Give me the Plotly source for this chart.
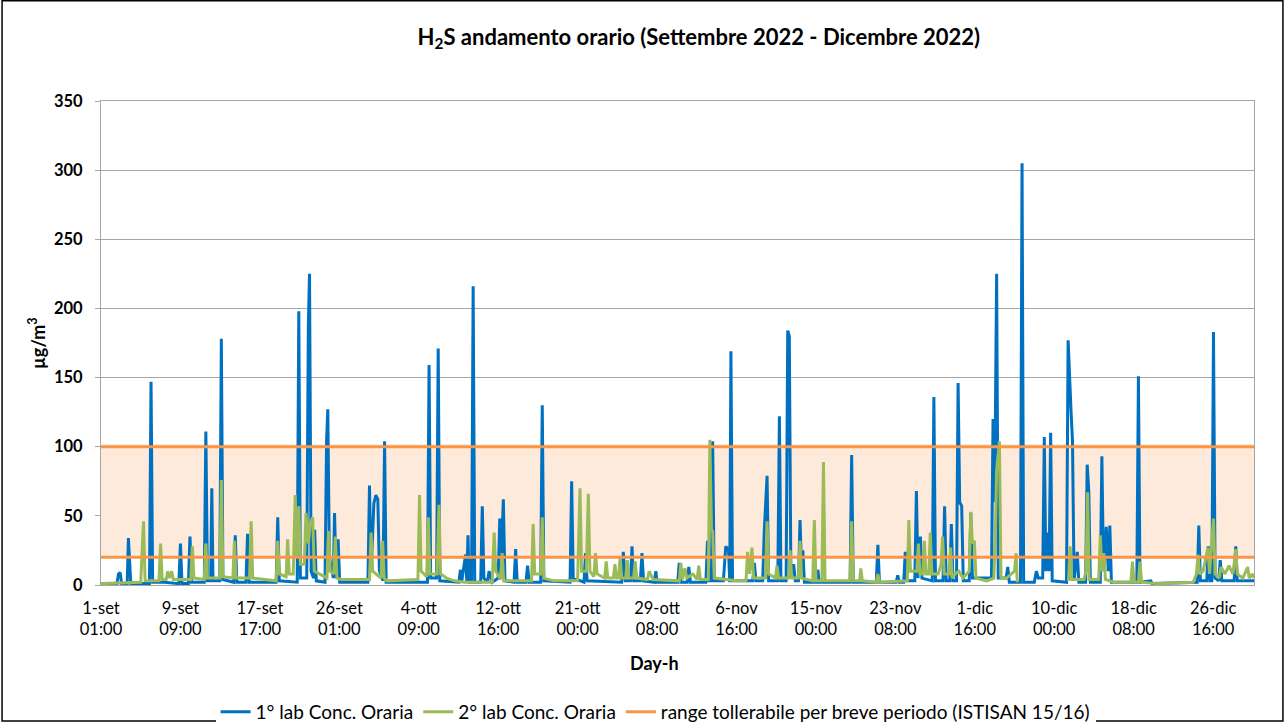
import plotly.graph_objects as go

# hour index from 1-set 01:00 (one point per hour), values in µg/m3
tick_hours = [0, 200, 400, 600, 800, 1000, 1200, 1400, 1600, 1800, 2000, 2200, 2400, 2600, 2800]
tick_labels = ["1-set<br>01:00", "9-set<br>09:00", "17-set<br>17:00", "26-set<br>01:00",
               "4-ott<br>09:00", "12-ott<br>16:00", "21-ott<br>00:00", "29-ott<br>08:00",
               "6-nov<br>16:00", "15-nov<br>00:00", "23-nov<br>08:00", "1-dic<br>16:00",
               "10-dic<br>00:00", "18-dic<br>08:00", "26-dic<br>16:00"]
last_hour = 2903

lab1_hour = [0, 40, 44, 48, 52, 66, 69, 72, 75,
             122, 126, 130, 160, 196, 200, 204,
             220, 224, 228, 260, 264, 268, 276, 279, 282,
             299, 303, 307, 334, 338, 342, 365, 369, 373,
             441, 445, 449, 494, 498, 502, 518, 522, 525, 529,
             535, 538, 542, 564, 568, 571, 575, 585, 588, 592, 597, 601,
             672, 676, 680, 687, 692, 697, 701, 710, 714, 718,
             822, 826, 830, 845, 849, 853, 901, 905, 908,
             918, 921, 924, 927, 933, 937, 941, 956, 960, 964,
             973, 977, 985, 1000, 1004, 1008, 1013, 1017,
             1040, 1044, 1048, 1070, 1074, 1078, 1107, 1111, 1115,
             1181, 1185, 1189, 1216, 1220, 1224, 1311, 1315, 1320,
             1333, 1337, 1341, 1358, 1362, 1366, 1393, 1397, 1400,
             1452, 1456, 1460, 1476, 1480, 1484, 1523, 1527, 1531,
             1537, 1540, 1544, 1567, 1573, 1580, 1583, 1586, 1590,
             1641, 1645, 1649, 1666, 1670, 1677, 1681, 1704, 1708, 1712,
             1725, 1729, 1733, 1737, 1744, 1748, 1756, 1760, 1764, 1767, 1771,
             1801, 1805, 1808, 1886, 1890, 1894, 1952, 1956, 1960,
             2002, 2006, 2010, 2021, 2025, 2029, 2049, 2053, 2057, 2063, 2067,
             2093, 2097, 2101, 2120, 2124, 2128, 2137, 2141, 2145,
             2154, 2158, 2162, 2167, 2171, 2186, 2190, 2194,
             2242, 2246, 2250, 2255, 2259, 2279, 2283, 2287,
             2315, 2319, 2323, 2350, 2355, 2360, 2371, 2375, 2379,
             2383, 2387, 2391, 2395, 2431, 2435, 2442, 2446, 2450,
             2458, 2462, 2479, 2483, 2487, 2491, 2516, 2520, 2524,
             2531, 2536, 2540, 2544, 2608, 2612, 2616, 2643, 2647,
             2760, 2764, 2768, 2784, 2788, 2792, 2797, 2801, 2805,
             2814, 2818, 2822, 2853, 2857, 2861, 2903]
lab1_conc = [1, 1, 8, 9, 1, 1, 34, 12, 1,
             1, 147, 2, 2, 1, 30, 1,
             1, 35, 2, 2, 111, 3, 3, 70, 3,
             3, 178, 4, 2, 36, 2, 2, 37, 2,
             2, 49, 3, 2, 198, 5, 5, 187, 225, 10,
             5, 40, 3, 2, 105, 127, 20, 5, 52, 5, 33, 2,
             2, 72, 10, 59, 65, 62, 10, 3, 104, 2,
             2, 159, 5, 5, 171, 3, 2, 11, 2,
             22, 2, 36, 2, 2, 216, 2, 2, 57, 5,
             2, 10, 2, 5, 48, 20, 62, 3,
             2, 26, 2, 2, 14, 2, 2, 130, 3,
             2, 75, 5, 2, 23, 3, 2, 24, 3,
             3, 28, 3, 3, 23, 3, 2, 10, 2,
             2, 16, 2, 2, 13, 2, 2, 32, 3,
             3, 104, 3, 3, 28, 25, 2, 169, 3,
             3, 16, 3, 3, 39, 79, 3, 3, 122, 3,
             3, 184, 180, 5, 15, 3, 3, 47, 10, 25, 2,
             2, 11, 2, 2, 94, 2, 2, 29, 2,
             2, 7, 2, 2, 24, 3, 3, 68, 5, 35, 5,
             3, 136, 3, 3, 57, 3, 3, 44, 3,
             3, 146, 60, 57, 3, 3, 52, 5,
             5, 120, 60, 225, 5, 5, 13, 2,
             2, 305, 2, 2, 10, 5, 5, 107, 10,
             38, 10, 110, 3, 2, 177, 128, 104, 3,
             24, 2, 2, 87, 68, 2, 2, 93, 10,
             42, 10, 43, 2, 2, 151, 2, 3, 1,
             2, 43, 3, 3, 28, 3, 3, 183, 5,
             3, 18, 3, 3, 28, 3, 3]

lab2_hour = [0, 100, 107, 111, 146, 150, 154, 164, 168, 172, 178, 182,
             226, 230, 234, 260, 264, 268, 299, 303, 307, 332, 336, 340,
             374, 378, 382, 441, 445, 449, 466, 470, 474, 484, 489, 493,
             498, 502, 512, 516, 522, 527, 533, 537, 569, 573, 577,
             586, 590, 594, 605, 676, 680, 684, 705, 709, 713, 720,
             798, 802, 806, 820, 824, 828, 846, 851, 855, 870, 890, 915,
             985, 990, 994, 1006, 1010, 1014, 1084, 1088, 1092, 1107, 1111, 1115, 1140,
             1200, 1206, 1210, 1222, 1227, 1231, 1241, 1245, 1249,
             1268, 1272, 1276, 1290, 1294, 1298, 1303, 1307, 1311, 1321, 1325, 1329,
             1341, 1345, 1349, 1376, 1380, 1390, 1456, 1460, 1464, 1470, 1475,
             1490, 1501, 1505, 1509, 1529, 1533, 1537, 1540, 1544, 1600,
             1624, 1628, 1633, 1639, 1643, 1673, 1677, 1681, 1698, 1702, 1706,
             1731, 1735, 1739, 1756, 1760, 1764, 1792, 1796, 1800, 1815, 1819, 1823,
             1886, 1890, 1894, 1910, 1913, 1917, 1952, 1956, 1960,
             2030, 2034, 2038, 2054, 2058, 2062, 2069, 2073, 2077,
             2084, 2088, 2092, 2108, 2115, 2119, 2123, 2135, 2139, 2143,
             2150, 2160, 2170, 2186, 2190, 2194, 2199, 2203, 2230,
             2248, 2252, 2255, 2262, 2266, 2280, 2300, 2304, 2307, 2308,
             2436, 2440, 2444, 2475, 2480, 2484, 2488, 2512, 2516, 2520, 2525, 2529, 2550,
             2593, 2597, 2601, 2612, 2616, 2620, 2660, 2750, 2758, 2762, 2766,
             2775, 2787, 2791, 2801, 2805, 2815, 2820, 2830, 2840, 2850, 2857, 2861,
             2875, 2887, 2891, 2899, 2903]
lab2_conc = [1, 2, 46, 3, 3, 30, 4, 4, 10, 5, 10, 4,
             4, 28, 5, 4, 30, 5, 5, 76, 6, 5, 32, 5,
             5, 46, 5, 3, 32, 8, 6, 33, 8, 8, 65, 20,
             57, 15, 15, 52, 30, 45, 49, 10, 5, 39, 10,
             8, 35, 5, 4, 4, 38, 10, 5, 32, 5, 3,
             4, 65, 10, 6, 49, 8, 8, 58, 8, 5, 3, 2,
             2, 38, 10, 4, 23, 3, 3, 44, 8, 8, 49, 5, 3,
             3, 70, 10, 10, 66, 10, 6, 23, 8,
             5, 17, 5, 5, 15, 5, 5, 20, 5, 5, 18, 5,
             5, 17, 5, 4, 10, 4, 3, 16, 4, 12, 5,
             8, 4, 14, 4, 4, 105, 40, 39, 5, 3,
             3, 24, 8, 27, 5, 5, 46, 8, 5, 14, 5,
             5, 25, 5, 5, 32, 5, 3, 47, 3, 3, 89, 3,
             3, 46, 3, 3, 12, 3, 2, 8, 2,
             3, 47, 10, 10, 30, 8, 8, 32, 8,
             8, 38, 8, 8, 15, 35, 8, 8, 27, 5,
             8, 10, 5, 10, 53, 30, 32, 5, 3,
             5, 40, 83, 104, 5, 5, 10, 23, 2, None,
             3, 28, 4, 4, 10, 67, 4, 4, 36, 10, 23, 4, 2,
             2, 17, 2, 2, 17, 2, 1, 2, 8, 22, 8,
             10, 27, 8, 48, 8, 5, 13, 8, 14, 8, 26, 8,
             5, 13, 5, 8, 5]

assert len(lab1_hour) == len(lab1_conc)
assert len(lab2_hour) == len(lab2_conc)

range_low = 20
range_high = 100

blue = "#0070C0"
green = "#9BBB59"
orange = "#F79646"
band = "#FDEADA"

fig = go.Figure()

# shaded tolerable band
fig.add_trace(go.Scatter(x=[0, last_hour], y=[range_low, range_low], mode="lines",
                         line=dict(width=0), showlegend=False, hoverinfo="skip"))
fig.add_trace(go.Scatter(x=[0, last_hour], y=[range_high + 2, range_high + 2], mode="lines",
                         line=dict(width=0), fill="tonexty", fillcolor=band,
                         showlegend=False, hoverinfo="skip"))

fig.add_trace(go.Scatter(x=lab1_hour, y=lab1_conc, mode="lines", name="1° lab Conc. Oraria",
                         line=dict(color=blue, width=3)))
fig.add_trace(go.Scatter(x=lab2_hour, y=lab2_conc, mode="lines", name="2° lab Conc. Oraria",
                         line=dict(color=green, width=3), connectgaps=False))

fig.add_trace(go.Scatter(x=[0, last_hour], y=[range_high, range_high], mode="lines",
                         name="range tollerabile per breve periodo (ISTISAN 15/16)",
                         line=dict(color=orange, width=3)))
fig.add_trace(go.Scatter(x=[0, last_hour], y=[range_low, range_low], mode="lines",
                         line=dict(color=orange, width=3), showlegend=False))

fig.update_layout(
    width=1287, height=725,
    margin=dict(l=101, r=33, t=101, b=140, autoexpand=False),
    paper_bgcolor="white", plot_bgcolor="white",
    font=dict(family="Lato, Noto Sans, sans-serif", color="black"),
    title=dict(text="<b>H<sub>2</sub>S andamento orario (Settembre 2022 - Dicembre 2022)</b>",
               x=0.543, xanchor="center", y=0.949, yanchor="middle", font=dict(size=22)),
    showlegend=True,
    legend=dict(orientation="h", x=0.481, xanchor="center", y=-0.262, yanchor="middle",
                font=dict(size=19), traceorder="normal", itemwidth=30),
    xaxis=dict(range=[0, last_hour], tickvals=tick_hours, ticktext=tick_labels,
               tickprefix="<b>", ticksuffix="</b>",
               tickfont=dict(size=16.5), showgrid=False, zeroline=False, ticklabelstandoff=8,
               showline=True, linecolor="#a6a6a6", linewidth=1, mirror=True),
    yaxis=dict(range=[0, 350], dtick=50, tickfont=dict(size=16.5), showgrid=True,
               tickprefix="<b>", ticksuffix="</b>", ticklabelstandoff=9,
               gridcolor="#a6a6a6", gridwidth=1, zeroline=False,
               showline=True, linecolor="#a6a6a6", linewidth=1, mirror=True,
               ticks="outside", ticklen=5, tickcolor="#a6a6a6"),
)

fig.add_annotation(text="<b>Day-h</b>", xref="paper", yref="paper", x=0.48, y=-0.188,
                   xanchor="center", showarrow=False, font=dict(size=18))
fig.add_annotation(text="<b>µg/m<sup>3</sup></b>", xref="paper", yref="paper", x=-0.0555, y=0.5,
                   xanchor="center", yanchor="middle", textangle=-90, showarrow=False,
                   font=dict(size=18))

# outer chart frame
fig.add_shape(type="rect", xref="paper", yref="paper", x0=-0.0858, x1=1.0251, y0=-0.281, y1=1.207,
              line=dict(color="black", width=1.5), layer="below")

fig.write_html("out.html", config={"displayModeBar": False},
               post_script="document.body.style.margin='0px';")
